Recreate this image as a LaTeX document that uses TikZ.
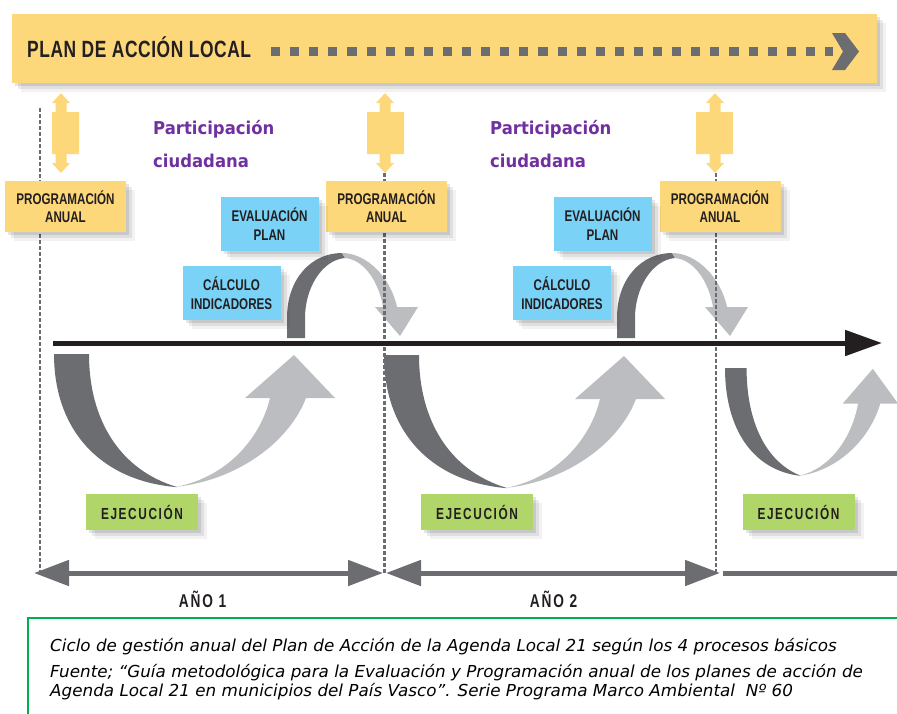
\documentclass[tikz,border=0pt]{standalone}
\usepackage{fontspec}
\usetikzlibrary{arrows.meta,shadows}
\newfontfamily\condfont[FakeStretch=0.75]{Liberation Sans Bold}
\newfontfamily\condspaced[FakeStretch=0.74,LetterSpace=10]{Liberation Sans Bold}
\newfontfamily\titlefont[FakeStretch=0.74,LetterSpace=2.5]{Liberation Sans Bold}
\newfontfamily\partfont[FakeStretch=0.93]{DejaVu Sans Bold}
\newfontfamily\capfont[FakeStretch=1.017]{DejaVu Sans Oblique}
\definecolor{ybox}{RGB}{253,216,122}
\definecolor{bbox}{RGB}{122,210,246}
\definecolor{gbox}{RGB}{176,213,104}
\definecolor{darkg}{RGB}{108,109,113}
\definecolor{lightg}{RGB}{188,189,192}
\definecolor{purp}{RGB}{112,48,160}
\definecolor{ink}{RGB}{35,31,32}
\definecolor{frameg}{RGB}{0,176,80}
\tikzset{
  soft/.style={
    general shadow={fill=black,opacity=0.10,shadow xshift=3pt,shadow yshift=-3pt},
    general shadow={fill=black,opacity=0.08,shadow xshift=6pt,shadow yshift=-6pt},
    general shadow={fill=black,opacity=0.05,shadow xshift=9pt,shadow yshift=-9pt}},
  bannerbox/.style={fill=ybox, minimum width=865pt, minimum height=69pt, inner sep=0pt, soft},
  titletext/.style={inner sep=0pt, text=ink, font=\titlefont\fontsize{23.5}{26}\selectfont},
  progbox/.style={fill=ybox, minimum width=121pt, minimum height=51pt, inner sep=0pt, align=center,
    text=ink, font=\condfont\fontsize{15.5}{18}\selectfont, soft},
  bluebox/.style={fill=bbox, minimum width=98pt, minimum height=54pt, inner sep=0pt, align=center,
    text=ink, font=\condfont\fontsize{15.5}{18.5}\selectfont, soft},
  greenbox/.style={fill=gbox, minimum width=112pt, minimum height=36pt, inner sep=0pt,
    text=ink, font=\condspaced\fontsize{16}{18}\selectfont, soft},
  parttext/.style={inner sep=0pt, text=purp, font=\partfont\fontsize{17.7}{20}\selectfont},
  yeartext/.style={inner sep=0pt, text=ink, font=\condspaced\fontsize{18.5}{20}\selectfont},
  captext/.style={inner sep=0pt, text=black, font=\capfont\fontsize{16.5}{20}\selectfont},
  vdash/.style={draw=darkg, line width=2.6pt, dash pattern=on 4pt off 2pt},
  dashbar/.style={draw=darkg, line width=9pt, dash pattern=on 9.1pt off 10pt},
  timeaxis/.style={draw=ink, line width=5pt, -{Triangle[length=37pt,width=25pt]}},
  yeararrow/.style={draw=darkg, line width=5pt,
    {Triangle[length=35pt,width=25pt]}-{Triangle[length=35pt,width=25pt]}},
}
\newcommand\dblarr[3]{%
  \fill[ybox] (#1,93) -- (#1+9,103) -- (#1+5.5,103) -- (#1+5.5,112) -- (#3,112) -- (#3,154)
    -- (#1+5.5,154) -- (#1+5.5,163) -- (#1+9,163) -- (#1,173) -- (#1-9,163) -- (#1-5.5,163)
    -- (#1-5.5,154) -- (#2,154) -- (#2,112) -- (#1-5.5,112) -- (#1-5.5,103) -- (#1-9,103) -- cycle;}
\newcommand\bigcurve{%
  \fill[darkg] (0,0) .. controls (0,76) and (46,126) .. (121,133) -- (123,133)
    .. controls (66,116) and (35,66) .. (35,0) -- cycle;
  \fill[lightg] (121,133) .. controls (186,126) and (236,86) .. (252,44) -- (281,44) -- (240,1)
    -- (191,44) -- (216,44) .. controls (206,86) and (171,124) .. (121,133) -- cycle;}
\newcommand\smallcurve{%
  \fill[darkg] (0,0) -- (0,-20) .. controls (0,-60) and (25,-85) .. (55,-85) -- (58,-80)
    .. controls (35,-78) and (18,-50) .. (18,-20) -- (18,0) -- cycle;
  \fill[lightg] (55,-85) .. controls (80,-85) and (104,-60) .. (110,-31) -- (131,-31) -- (113,-2)
    -- (88,-31) -- (96,-31) .. controls (92,-55) and (78,-78) .. (58,-80) -- cycle;}
\begin{document}
\begin{tikzpicture}[x=1pt,y=-1pt]
\useasboundingbox (0,0) rectangle (897,713);
% banner
\node[bannerbox] (banner) at (444.5,48) {};
\node[titletext, anchor=base west] (title) at (27,57) {PLAN DE ACCIÓN LOCAL};
\coordinate (dashL) at (271,51.5);
\coordinate (dashR) at (833,51.5);
\draw[dashbar] (dashL) -- (dashR);
\fill[darkg] (832,33) -- (845,33) -- (859,51.5) -- (845,70) -- (832,70) -- (843,51.5) -- cycle;
% curves
\begin{scope}[shift={(54,354)}]\bigcurve\end{scope}
\begin{scope}[shift={(384,355)}]\bigcurve\end{scope}
\begin{scope}[shift={(725,368)}, xscale=0.616, yscale=0.81]\bigcurve\end{scope}
\begin{scope}[shift={(287,338)}]\smallcurve\end{scope}
\begin{scope}[shift={(617,338)}]\smallcurve\end{scope}
% dashed verticals
\coordinate (v1t) at (40,108);  \coordinate (v1b) at (40,572);
\coordinate (v2t) at (384.5,173); \coordinate (v2b) at (384.5,574);
\coordinate (v3t) at (716,173); \coordinate (v3b) at (716,574);
\draw[vdash] (v1t) -- (v1b);
\draw[vdash] (v2t) -- (v2b);
\draw[vdash] (v3t) -- (v3b);
% double arrows
\dblarr{61}{52}{79}
\dblarr{385}{367}{404}
\dblarr{715}{696}{733}
% time axis
\coordinate (axisL) at (53,343);
\coordinate (axisR) at (882,343);
\draw[timeaxis] (axisL) -- (axisR);
% boxes
\node[progbox] (prog1) at (65.5,206.5) {PROGRAMACIÓN\\ANUAL};
\node[progbox] (prog2) at (386.5,206.5) {PROGRAMACIÓN\\ANUAL};
\node[progbox] (prog3) at (720,206.5) {PROGRAMACIÓN\\ANUAL};
\node[bluebox] (eval1) at (269.5,224) {EVALUACIÓN\\PLAN};
\node[bluebox] (eval2) at (602.5,224) {EVALUACIÓN\\PLAN};
\node[bluebox] (calc1) at (231.5,293) {CÁLCULO\\INDICADORES};
\node[bluebox] (calc2) at (562,293) {CÁLCULO\\INDICADORES};
\node[greenbox] (ejec1) at (142,512) {EJECUCIÓN};
\node[greenbox] (ejec2) at (477,512) {EJECUCIÓN};
\node[greenbox] (ejec3) at (798.5,512) {EJECUCIÓN};
% participation
\node[parttext, anchor=base west] (part1a) at (153,134) {Participación};
\node[parttext, anchor=base west] (part1b) at (153,167) {ciudadana};
\node[parttext, anchor=base west] (part2a) at (490,134) {Participación};
\node[parttext, anchor=base west] (part2b) at (490,167) {ciudadana};
% years
\coordinate (y1L) at (34,573); \coordinate (y1R) at (383,573);
\coordinate (y2L) at (386,573); \coordinate (y2R) at (720,573);
\coordinate (y3L) at (723,573); \coordinate (y3R) at (897,573);
\draw[yeararrow] (y1L) -- (y1R);
\draw[yeararrow] (y2L) -- (y2R);
\draw[draw=darkg, line width=5pt] (y3L) -- (y3R);
\node[yeartext, anchor=base] (ano1) at (202.5,607) {AÑO 1};
\node[yeartext, anchor=base] (ano2) at (553.5,607) {AÑO 2};
% caption frame
\draw[frameg, line width=2.2pt] (28,720) -- (28,618) -- (905,618);
\node[captext, anchor=base west] (cap1) at (50,651) {Ciclo de gestión anual del Plan de Acción de la Agenda Local 21 según los 4 procesos básicos};
\node[captext, anchor=base west] (cap2) at (50,677) {Fuente; “Guía metodológica para la Evaluación y Programación anual de los planes de acción de};
\node[captext, anchor=base west] (cap3) at (50,696) {Agenda Local 21 en municipios del País Vasco”. Serie Programa Marco Ambiental\ \ Nº 60};
\end{tikzpicture}
\end{document}
